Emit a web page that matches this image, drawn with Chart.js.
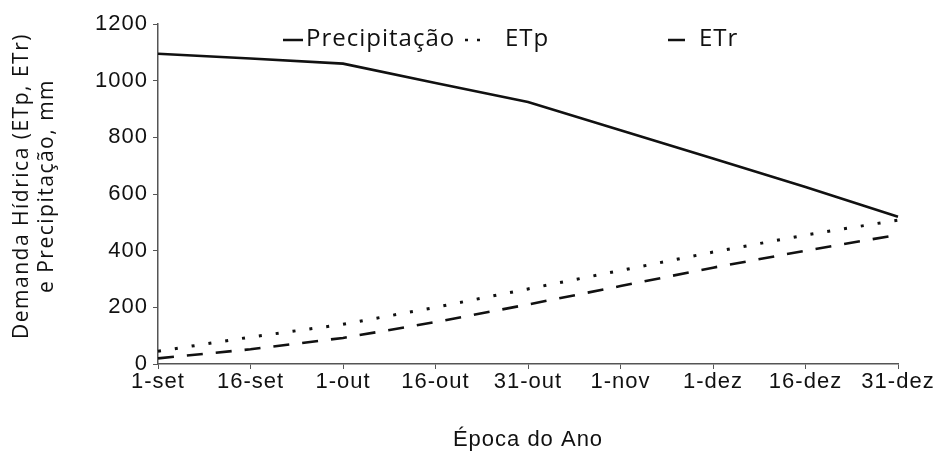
<!DOCTYPE html>
<html>
<head>
<meta charset="utf-8">
<script src="https://cdn.jsdelivr.net/npm/chart.js@4"></script>
<style>
  html, body { margin: 0; padding: 0; background: #fff; }
  #wrap { width: 943px; height: 458px; }
</style>
</head>
<body>
<div id="wrap"><canvas id="grafico"></canvas></div>
<script>
// Datos
const epocas = ['1-set', '16-set', '1-out', '16-out', '31-out', '1-nov', '1-dez', '16-dez', '31-dez'];
const precipitacao = [1095, 1078, 1060, 992, 925, 825, 725, 625, 520];
const etp = [45, 95, 140, 200, 265, 330, 395, 455, 508];
const etr = [20, 52, 92, 148, 210, 275, 340, 400, 456];
const yTicks = [0, 200, 400, 600, 800, 1000, 1200];
const tituloY = ['Demanda Hídrica (ETp, ETr)', 'e Precipitação, mm'];

const fonteEixo = '"Liberation Sans", Arial, sans-serif';
const fonteTexto = '"Open Sans", "Noto Sans", sans-serif';

// Espaciado de letras un poco más ancho, como en el escaneo
const espaciado = {
    id: 'espaciado',
    beforeDraw(chart) { chart.ctx.letterSpacing = '1px'; }
};

// Leyenda y título del eje Y dibujados a mano
const textosExtra = {
    id: 'textosExtra',
    afterDraw(chart) {
        const ctx = chart.ctx;
        const y = 39;
        const items = [
            { ds: 0, x: 283, largo: 20, texto: 306 },
            { ds: 1, x: 465, largo: 22, texto: 505 },
            { ds: 2, x: 668, largo: 17, texto: 699 }
        ];
        ctx.save();
        ctx.letterSpacing = '1px';
        ctx.font = '500 24px ' + fonteTexto;
        ctx.textBaseline = 'middle';
        items.forEach(it => {
            const ds = chart.data.datasets[it.ds];
            ctx.strokeStyle = '#111';
            ctx.lineWidth = 2.5;
            ctx.setLineDash(it.ds === 1 ? [3, 9] : []);
            ctx.beginPath();
            ctx.moveTo(it.x, y + 1);
            ctx.lineTo(it.x + it.largo, y + 1);
            ctx.stroke();
            ctx.setLineDash([]);
            ctx.fillStyle = '#111';
            ctx.fillText(ds.label, it.texto, y);
        });

        // título vertical
        ctx.font = '500 21px ' + fonteTexto;
        ctx.textAlign = 'center';
        ctx.letterSpacing = '1.5px';
        const cy = 186;
        [22, 47].forEach((x, i) => {
            ctx.save();
            ctx.translate(x, cy);
            ctx.rotate(-Math.PI / 2);
            ctx.fillText(tituloY[i], 0, 0);
            ctx.restore();
        });
        ctx.restore();
    }
};

const ctx = document.getElementById('grafico').getContext('2d');
new Chart(ctx, {
    type: 'line',
    data: {
        labels: epocas,
        datasets: [
            {
                label: 'Precipitação',
                data: precipitacao,
                borderColor: '#111',
                borderWidth: 2.6,
                pointRadius: 0,
                tension: 0
            },
            {
                label: 'ETp',
                data: etp,
                borderColor: '#111',
                borderWidth: 3,
                borderDash: [3, 14],
                pointRadius: 0,
                tension: 0
            },
            {
                label: 'ETr',
                data: etr,
                borderColor: '#111',
                borderWidth: 2.6,
                borderDash: [16, 13],
                pointRadius: 0,
                tension: 0
            }
        ]
    },
    options: {
        responsive: true,
        maintainAspectRatio: false,
        animation: false,
        layout: { padding: { top: 24, right: 45, bottom: 0, left: 0 } },
        plugins: {
            legend: { display: false },
            tooltip: { enabled: false }
        },
        scales: {
            x: {
                offset: false,
                afterFit(axis) { axis.height = 94; },
                grid: { display: true, drawOnChartArea: false, color: '#555', tickLength: 5 },
                border: { color: '#555', width: 1.5 },
                ticks: { color: '#111', font: { size: 22, family: fonteEixo }, padding: 0, maxRotation: 0, autoSkip: false },
                title: { display: true, text: 'Época do Ano', color: '#111', font: { size: 22, family: fonteEixo }, padding: { top: 0, bottom: 5 } }
            },
            y: {
                min: 0,
                max: 1200,
                afterFit(axis) { axis.width = 158; },
                afterBuildTicks(axis) { axis.ticks = yTicks.map(v => ({ value: v })); },
                grid: { display: true, drawOnChartArea: false, color: '#555', tickLength: 5 },
                border: { color: '#555', width: 1.5 },
                ticks: { color: '#111', font: { size: 22, family: fonteEixo }, padding: 5, callback: v => String(v) }
            }
        }
    },
    plugins: [espaciado, textosExtra]
});
</script>
</body>
</html>
